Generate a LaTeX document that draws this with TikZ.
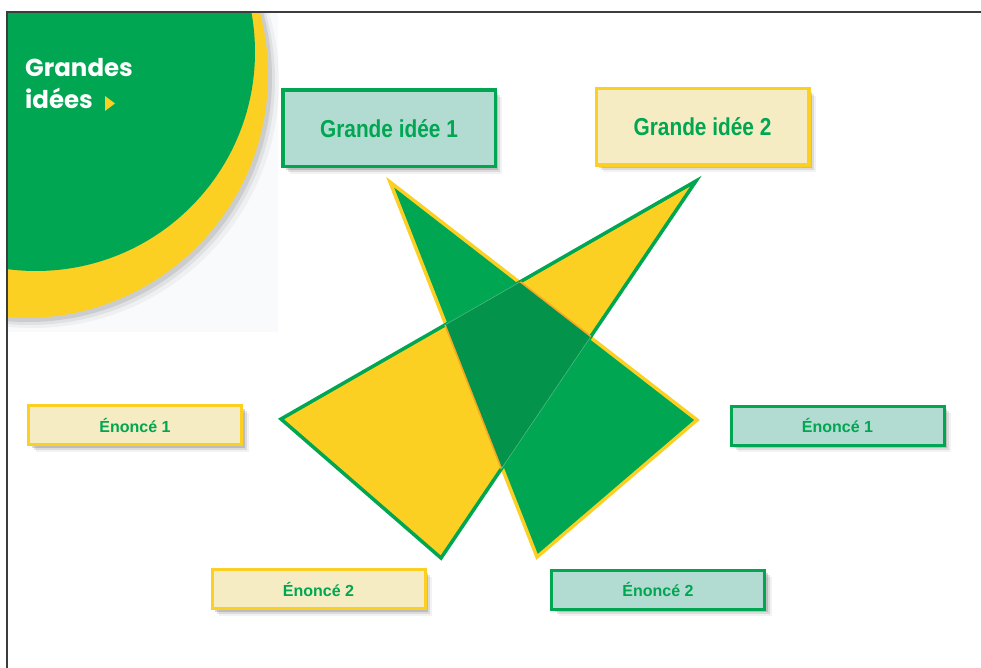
\documentclass[tikz,border=0pt]{standalone}
\usepackage{fontspec}
\setmainfont{Liberation Sans}
\newfontfamily\condf[FakeStretch=0.85]{Liberation Sans}
\newfontfamily\comicf{Poppins}
\usetikzlibrary{shadows}
\definecolor{cgreen}{RGB}{0,166,81}
\definecolor{cyellow}{RGB}{252,208,35}
\definecolor{cteal}{RGB}{178,219,210}
\definecolor{ccream}{RGB}{245,236,195}
\definecolor{cdark}{RGB}{3,147,74}
\definecolor{corange}{RGB}{245,168,35}
\definecolor{cpanel}{RGB}{249,250,252}
\definecolor{cframe}{RGB}{60,60,60}
\tikzset{
  boxshadow/.style={
    drop shadow={shadow xshift=3pt,shadow yshift=-3pt,opacity=.22,fill=black!70},
    drop shadow={shadow xshift=5pt,shadow yshift=-5pt,opacity=.14,fill=black!70},
    drop shadow={shadow xshift=7pt,shadow yshift=-7pt,opacity=.07,fill=black!70}},
  bigbox/.style={boxshadow, line width=3.5pt, minimum width=212.5pt, minimum height=76.5pt,
    inner sep=0pt, text=cgreen, font=\condf\bfseries\fontsize{24.5}{28}\selectfont},
  smallbox/.style={boxshadow, line width=3pt, minimum width=213pt, minimum height=39pt,
    inner sep=0pt, text=cgreen, font=\bfseries\fontsize{16}{19}\selectfont},
  tealbox/.style={draw=cgreen, fill=cteal},
  creambox/.style={draw=cyellow, fill=ccream},
  tri/.style={line width=3.5pt, line join=miter}
}
\begin{document}
\begin{tikzpicture}[x=1pt,y=-1pt]
\useasboundingbox (0,0) rectangle (981,668);
% corner panel and circles
\begin{scope}
  \clip (7,12) rectangle (981,668);
  \fill[cpanel] (7,12) rectangle (278,332);
  \fill[black,opacity=.04] (33,82) circle[radius=246pt];
  \fill[black,opacity=.06] (30,80) circle[radius=245pt];
  \fill[black,opacity=.09] (28,78) circle[radius=244pt];
  \fill[cyellow] (25,75) circle[radius=243pt];
  \fill[cgreen] (36,52) circle[radius=219pt];
\end{scope}
\draw[cframe,line width=1.1pt] (7,668) -- (7,12) -- (981,12);
% title
\node[anchor=north west, inner sep=0pt, align=left, text=white,
  font=\comicf\bfseries\fontsize{24.5}{32}\selectfont] (title) at (25,58) {Grandes\\idées};
\fill[cyellow] (105,96) -- (105,111) -- (115,103.5) -- cycle;
% triangles
\coordinate (A) at (390,182);
\coordinate (B) at (697,420);
\coordinate (C) at (537,557);
\coordinate (D) at (696,181);
\coordinate (E) at (281,419);
\coordinate (F) at (441,558);
\fill[cgreen] (A) -- (B) -- (C) -- cycle;
\fill[cyellow] (D) -- (E) -- (F) -- cycle;
\draw[tri,cyellow] (A) -- (B) -- (C) -- cycle;
\draw[tri,cgreen] (D) -- (E) -- (F) -- cycle;
\begin{scope}
  \clip (D) -- (E) -- (F) -- cycle;
  \draw[tri,corange] (A) -- (B) -- (C) -- cycle;
\end{scope}
\begin{scope}
  \clip (A) -- (B) -- (C) -- cycle;
  \fill[cdark] (D) -- (E) -- (F) -- cycle;
  \draw[white,opacity=.3,line width=.6pt] (D) -- (E) -- (F) -- cycle;
\end{scope}
% boxes
\node[bigbox,tealbox] (gi1) at (389,128.5) {Grande idée 1};
\node[bigbox,creambox] (gi2) at (702.5,127) {Grande idée 2};
\node[smallbox,creambox] (e1l) at (135,425) {Énoncé 1};
\node[smallbox,tealbox] (e1r) at (837.5,425.5) {Énoncé 1};
\node[smallbox,creambox] (e2l) at (318.5,589) {Énoncé 2};
\node[smallbox,tealbox] (e2r) at (658,589.5) {Énoncé 2};
\end{tikzpicture}
\end{document}
